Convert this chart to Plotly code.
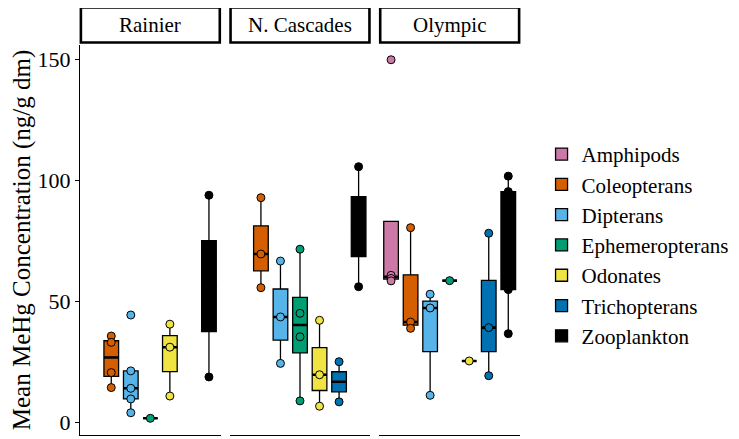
import numpy as np
import plotly.graph_objects as go

taxa = ["Amphipods", "Coleopterans", "Dipterans", "Ephemeropterans",
        "Odonates", "Trichopterans", "Zooplankton"]
taxa_colors = ["#CC79A7", "#D55E00", "#56B4E9", "#009E73",
               "#F0E442", "#0072B2", "#000000"]
parks = ["Rainier", "N. Cascades", "Olympic"]

rainier = {
    "Coleopterans": [35.8, 33.2, 20.7, 14.5],
    "Dipterans": [44.5, 21.4, 14.2, 9.8, 4.1],
    "Ephemeropterans": [1.8],
    "Odonates": [40.7, 31.2, 11.0],
    "Zooplankton": [94.0, 18.9],
}
n_cascades = {
    "Coleopterans": [93.0, 69.7, 55.8],
    "Dipterans": [66.8, 43.7, 24.5],
    "Ephemeropterans": [71.7, 45.2, 35.5, 9.0],
    "Odonates": [42.3, 19.8, 6.8],
    "Trichopterans": [25.2, 8.6],
    "Zooplankton": [105.8, 56.2],
}
olympic = {
    "Amphipods": [150.0, 60.9, 59.6, 58.6],
    "Coleopterans": [80.6, 41.6, 39.0],
    "Dipterans": [53.1, 47.4, 11.3],
    "Ephemeropterans": [58.7],
    "Odonates": [25.5],
    "Trichopterans": [78.3, 39.3, 19.4],
    "Zooplankton": [101.9, 95.5, 75.0, 55.0, 36.8],
}
park_data = [rainier, n_cascades, olympic]

FONT = "Liberation Serif, Times New Roman, serif"
BOXW = 0.75

fig = go.Figure()
legend_done = set()

for pi, data in enumerate(park_data):
    ax = "" if pi == 0 else str(pi + 1)
    for ti, taxon in enumerate(taxa):
        if taxon not in data:
            continue
        vals = np.array(data[taxon], dtype=float)
        pos = ti + 1
        col = taxa_colors[ti]
        q1, med, q3 = np.percentile(vals, [25, 50, 75])
        iqr = q3 - q1
        lo = vals[vals >= q1 - 1.5 * iqr].min()
        hi = vals[vals <= q3 + 1.5 * iqr].max()
        show = taxon not in legend_done
        legend_done.add(taxon)
        fig.add_trace(go.Box(
            x=[pos], q1=[q1], median=[med], q3=[q3],
            lowerfence=[min(lo, q1)], upperfence=[max(hi, q3)],
            width=BOXW, whiskerwidth=0, boxpoints=False,
            fillcolor=col, line=dict(color="black", width=1.3),
            name=taxon, legendgroup=taxon, showlegend=show,
            legendrank=ti + 1, hoverinfo="skip",
            xaxis="x" + ax, yaxis="y" + ax,
        ))
        # thicker median line (ggplot fatten)
        fig.add_trace(go.Scatter(
            x=[pos - BOXW / 2, pos + BOXW / 2], y=[med, med],
            mode="lines", line=dict(color="black", width=2.6),
            showlegend=False, hoverinfo="skip",
            xaxis="x" + ax, yaxis="y" + ax,
        ))
        fig.add_trace(go.Scatter(
            x=[pos] * len(vals), y=vals, mode="markers",
            marker=dict(size=8, color=col,
                        line=dict(color="black", width=1)),
            showlegend=False, hoverinfo="skip",
            xaxis="x" + ax, yaxis="y" + ax,
        ))

gap = 9 / 440
pw = (1 - 2 * gap) / 3
domains = [[0, pw], [pw + gap, 2 * pw + gap], [2 * pw + 2 * gap, 1]]

# page body has an 8px margin: figure is sized so it ends at the window edge
layout = dict(
    width=731, height=431,
    margin=dict(l=72, r=219, t=37, b=4, autoexpand=False),
    paper_bgcolor="white", plot_bgcolor="white",
    font=dict(family=FONT, size=21, color="black"),
    showlegend=True,
    legend=dict(x=1.049, xanchor="left", y=0.772, yanchor="top",
                font=dict(size=21, family=FONT), tracegroupgap=0,
                bgcolor="rgba(0,0,0,0)"),
    boxmode="overlay",
)
yrange = [-5.1, 156.1]
for i in range(3):
    sfx = "" if i == 0 else str(i + 1)
    layout["xaxis" + sfx] = dict(
        domain=domains[i], range=[0.4, 7.6], showticklabels=False,
        ticks="", showgrid=False, zeroline=False, showline=True,
        linecolor="black", linewidth=1.3, anchor="y" + sfx,
        fixedrange=True, automargin=False)
    ydict = dict(range=yrange, showgrid=False, zeroline=False,
                 anchor="x" + sfx, fixedrange=True, automargin=False)
    if i == 0:
        ydict.update(showline=True, linecolor="black", linewidth=1.3,
                     ticks="outside", ticklen=4, tickcolor="black",
                     tickwidth=1.2, tickvals=[0, 50, 100, 150],
                     tickfont=dict(size=22, family=FONT),
                     title=dict(text="Mean MeHg Concentration (ng/g dm)",
                                font=dict(size=25, family=FONT),
                                standoff=4))
    else:
        ydict.update(showline=False, showticklabels=False, ticks="",
                     matches="y")
    layout["yaxis" + sfx] = ydict

shapes = []
annotations = []
for i, park in enumerate(parks):
    d0, d1 = domains[i]
    shapes.append(dict(type="rect", xref="paper", yref="paper",
                       x0=d0 + 0.002, x1=d1 - 0.002, y0=1.0065, y1=1.0965,
                       line=dict(color="black", width=2.6),
                       fillcolor="white", layer="above"))
    annotations.append(dict(text=park, xref="paper", yref="paper",
                            x=(d0 + d1) / 2, y=1.0515, showarrow=False,
                            xanchor="center", yanchor="middle",
                            font=dict(size=21, family=FONT)))
layout["shapes"] = shapes
layout["annotations"] = annotations

fig.update_layout(**layout)
fig.write_html("out.html")
